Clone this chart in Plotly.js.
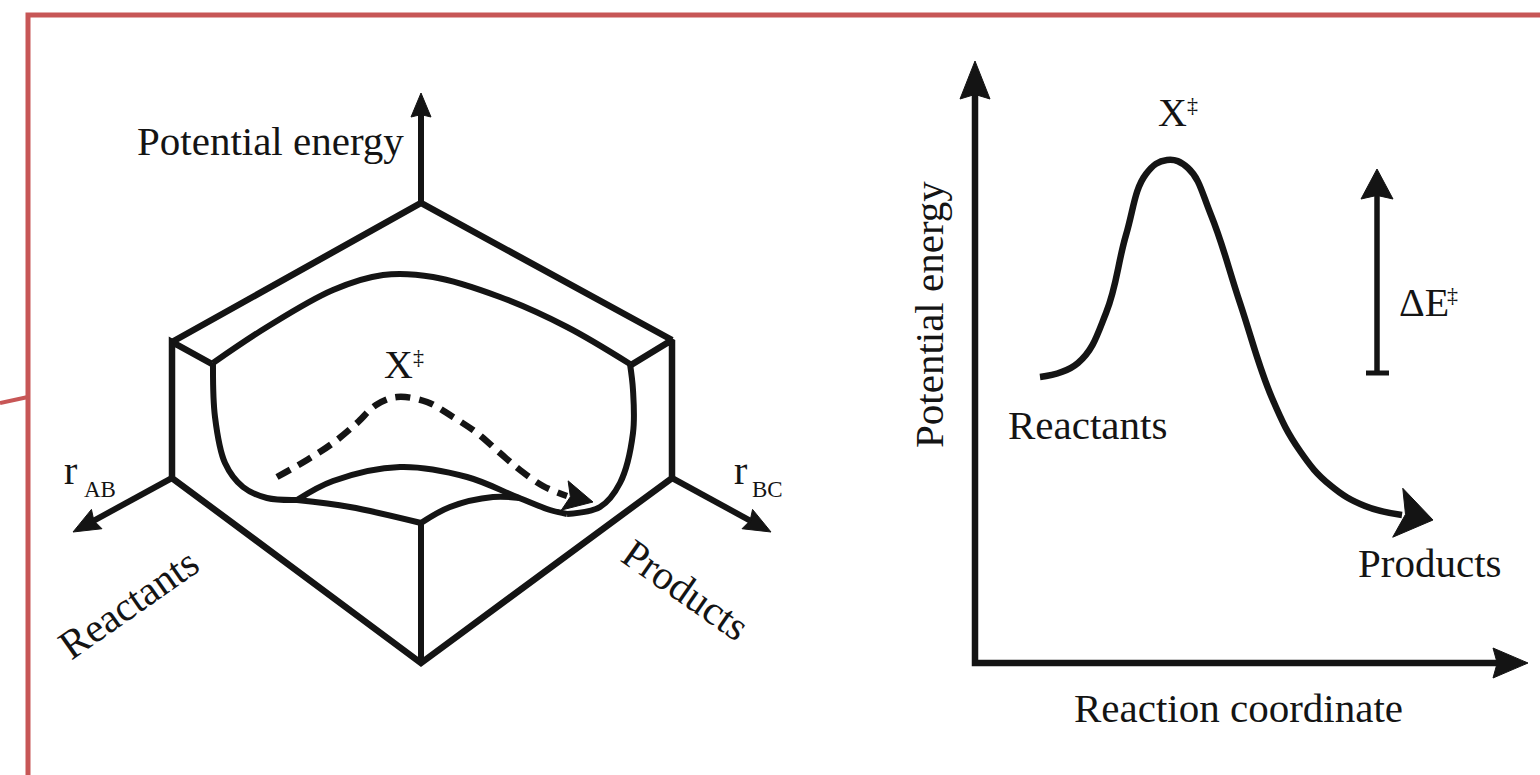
<!DOCTYPE html>
<html><head><meta charset="utf-8">
<script src="https://cdn.plot.ly/plotly-3.0.1.min.js"></script>
<style>html,body{margin:0;padding:0;background:#fff;overflow:hidden}#chart{width:1540px;height:775px}</style>
</head><body><div id="chart"></div>
<script>
// ---------- frame (red border) ----------
const frameX = [1545, 28, 28];
const frameY = [15, 15, 785];
const stubX = [0, 28];
const stubY = [403, 397];

// ---------- left: potential-energy surface block ----------
const blockOutlineX = [212, 172, 172, 421, 672, 672, 631];
const blockOutlineY = [364, 342, 478, 663, 478, 340, 365];
const blockTopX = [172, 421, 672];
const blockTopY = [342, 203, 340];
const frontEdgeX = [421, 421];
const frontEdgeY = [663, 523];
const rimX = [213, 267, 333, 383, 433, 500, 567, 630];
const rimY = [363, 327, 290, 275, 277, 297, 327, 364];
const leftWallX = [213, 215, 225, 243, 267, 297];
const leftWallY = [363, 417, 463, 487, 498, 500];
const ridgeX = [297, 333, 400, 467, 517, 550, 567];
const ridgeY = [500, 481, 467, 477, 497, 510, 514];
const frontLeftX = [297, 350, 421];
const frontLeftY = [500, 507, 523];
const frontRightX = [421, 450, 493, 520];
const frontRightY = [523, 507, 497, 498];
const rightWallX = [567, 600, 620, 633, 633, 630];
const rightWallY = [514, 507, 483, 433, 390, 364];
const pathX = [277, 307, 333, 357, 376, 397, 427, 453, 477, 500, 520, 543, 567];
const pathY = [477, 460, 443, 423, 405, 397, 402, 417, 433, 453, 470, 486, 496];
const pathTip = [593, 502];
const peAxisStart = [421, 203], peAxisTip = [421, 93];
const rabStart = [172, 478], rabTip = [73, 532];
const rbcStart = [672, 478], rbcTip = [771, 532];

// ---------- right: reaction profile ----------
const profileX = [1040, 1078, 1106, 1126, 1146, 1167, 1188, 1211, 1240, 1272, 1300, 1330, 1365, 1402];
const profileY = [377, 363, 313, 235, 174, 160, 168, 215, 303, 398, 451, 485, 506, 515];
const profileTip = [1433, 520];
const axisOrigin = [975, 663];
const yAxisTip = [975, 61];
const xAxisTip = [1528, 663];
const dEStart = [1377, 373], dETip = [1377, 169];
const dEBarX = [1366, 1389];
const dEBarY = [373, 373];

// ---------- text ----------
const labels = [
  {t: 'Potential energy', x: 270, y: 141, s: 41, a: 0},
  {t: 'X', x: 398, y: 364, s: 40, a: 0},
  {t: '‡', x: 418, y: 356, s: 22, a: 0},
  {t: 'r', x: 70, y: 470, s: 40, a: 0},
  {t: 'AB', x: 100, y: 489, s: 23, a: 0},
  {t: 'r', x: 740, y: 470, s: 40, a: 0},
  {t: 'BC', x: 767, y: 489, s: 23, a: 0},
  {t: 'Reactants', x: 128, y: 604, s: 41, a: -35},
  {t: 'Products', x: 686, y: 590, s: 41, a: 35},
  {t: 'X', x: 1172, y: 112, s: 40, a: 0},
  {t: '‡', x: 1192, y: 104, s: 22, a: 0},
  {t: 'ΔE', x: 1424, y: 302, s: 40, a: 0},
  {t: '‡', x: 1452, y: 294, s: 22, a: 0},
  {t: 'Reactants', x: 1087, y: 425, s: 41, a: 0},
  {t: 'Products', x: 1430, y: 563, s: 41, a: 0},
  {t: 'Reaction coordinate', x: 1238, y: 708, s: 41, a: 0},
  {t: 'Potential energy', x: 929, y: 315, s: 41, a: -90}
];

// ---------- drawing ----------
const INK = '#141414';
const FONT = 'Liberation Serif, Times New Roman, serif';
const traces = [];
function line(x, y, w, opts) {
  const o = opts || {};
  const ln = {color: INK, width: w};
  if (o.spline) { ln.shape = 'spline'; ln.smoothing = o.smoothing || 1; }
  if (o.dash) ln.dash = o.dash;
  traces.push({type: 'scatter', mode: 'lines', x: x, y: y, line: ln,
    hoverinfo: 'skip', showlegend: false});
}
function spline(x, y, w, opts) {
  line(x, y, w, Object.assign({spline: true}, opts || {}));
}
function head(tip, from, len, half, notch) {
  const dx = tip[0] - from[0], dy = tip[1] - from[1];
  const d = Math.hypot(dx, dy), ux = dx / d, uy = dy / d, nx = -uy, ny = ux;
  const bx = tip[0] - ux * len, by = tip[1] - uy * len;
  const mx = tip[0] - ux * len * (1 - notch), my = tip[1] - uy * len * (1 - notch);
  traces.push({type: 'scatter', mode: 'lines', fill: 'toself', fillcolor: INK,
    x: [tip[0], bx + nx * half, mx, bx - nx * half, tip[0]],
    y: [tip[1], by + ny * half, my, by - ny * half, tip[1]],
    line: {color: INK, width: 1}, hoverinfo: 'skip', showlegend: false});
  return [mx + ux * 1, my + uy * 1];
}
function arrow(start, tip, w, len, half, notch) {
  const b = head(tip, start, len, half, notch);
  line([start[0], b[0]], [start[1], b[1]], w);
}

// frame
traces.push({type: 'scatter', mode: 'lines', x: frameX, y: frameY, line: {color: '#c75656', width: 5}, hoverinfo: 'skip', showlegend: false});
traces.push({type: 'scatter', mode: 'lines', x: stubX, y: stubY, line: {color: '#c75656', width: 4}, hoverinfo: 'skip', showlegend: false});

// left block
line(blockOutlineX, blockOutlineY, 6.5);
line(blockTopX, blockTopY, 6.5);
line(frontEdgeX, frontEdgeY, 6);
spline(rimX, rimY, 6);
spline(leftWallX, leftWallY, 6);
spline(ridgeX, ridgeY, 6);
spline(frontLeftX, frontLeftY, 6);
spline(frontRightX, frontRightY, 6);
spline(rightWallX, rightWallY, 6);
spline(pathX, pathY, 6.5, {dash: '15px,9px'});
head(pathTip, [pathX[pathX.length - 1], pathY[pathY.length - 1]], 29, 15, 0.2);
arrow(peAxisStart, peAxisTip, 6, 24, 10, 0.1);
arrow(rabStart, rabTip, 6, 27, 11, 0.12);
arrow(rbcStart, rbcTip, 6, 27, 11, 0.12);

// right profile
const yb = head(yAxisTip, axisOrigin, 38, 15, 0.12);
const xb = head(xAxisTip, axisOrigin, 35, 15, 0.12);
line([yb[0], axisOrigin[0], xb[0]], [yb[1], axisOrigin[1], xb[1]], 6.5);
spline(profileX, profileY, 6.5, {smoothing: 1.2});
head(profileTip, [profileX[profileX.length - 2], profileY[profileY.length - 2]], 36, 25, 0.22);
arrow(dEStart, dETip, 5.5, 30, 16, 0.12);
line(dEBarX, dEBarY, 5);

const annotations = labels.map(l => ({
  text: l.t, x: l.x, y: l.y, xref: 'x', yref: 'y', showarrow: false,
  xanchor: 'center', yanchor: 'middle', textangle: l.a,
  font: {family: FONT, size: l.s, color: INK}
}));

const layout = {
  width: 1540, height: 775,
  margin: {l: 0, r: 0, t: 0, b: 0},
  paper_bgcolor: '#ffffff', plot_bgcolor: '#ffffff',
  xaxis: {range: [0, 1540], visible: false, fixedrange: true},
  yaxis: {range: [775, 0], visible: false, fixedrange: true},
  showlegend: false,
  annotations: annotations
};
Plotly.newPlot('chart', traces, layout, {staticPlot: true, displayModeBar: false});
</script>
</body></html>
